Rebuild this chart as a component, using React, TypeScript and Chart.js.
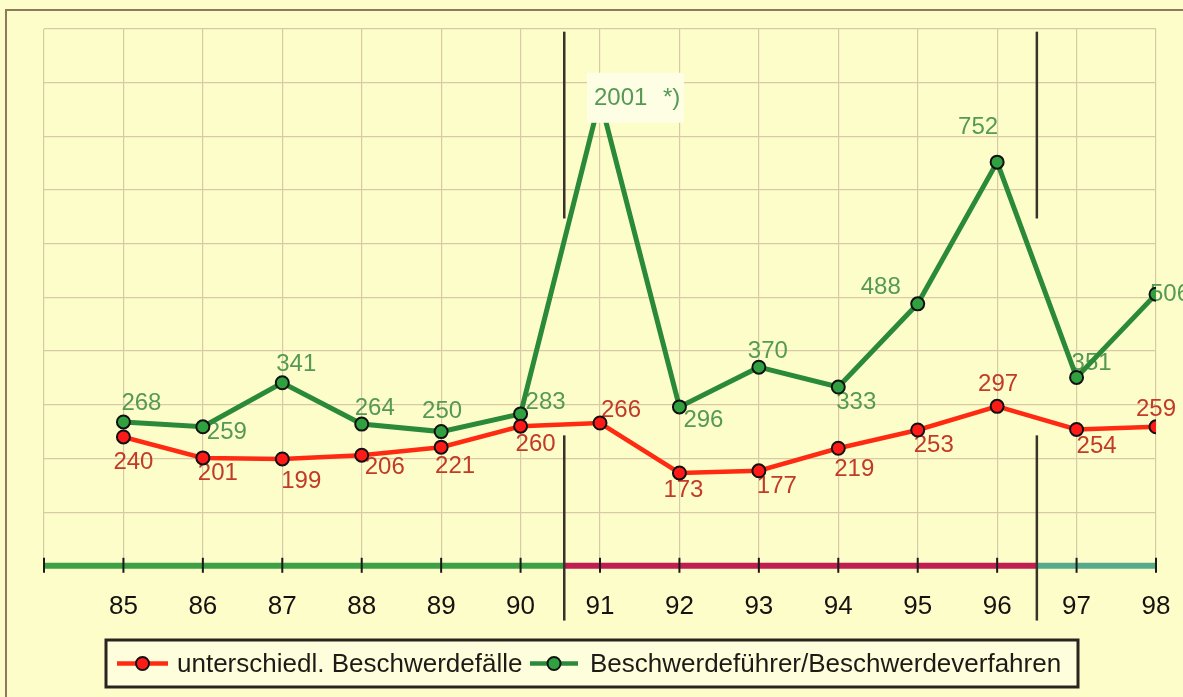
import { useEffect, useRef } from 'react';
import { Chart, registerables } from 'chart.js';

Chart.register(...registerables);

// ---------- data ----------
const years = [85, 86, 87, 88, 89, 90, 91, 92, 93, 94, 95, 96, 97, 98];
const redValues = [240, 201, 199, 206, 221, 260, 266, 173, 177, 219, 253, 297, 254, 259];
const greenValues = [268, 259, 341, 264, 250, 283, 2001, 296, 370, 333, 488, 752, 351, 506];
const greenFootnote = '*)';
// the 2001 value is off the scale; the original draws it at this (broken-axis) height
const OFF_SCALE_DRAWN = 870;
const redLabel = 'unterschiedl. Beschwerdefälle';
const greenLabel = 'Beschwerdeführer/Beschwerdeverfahren';
const periodBreaks = [90.55, 96.5];
const X_MIN = 84;
const X_MAX = 98;
const Y_MAX = 1000;

// ---------- layout / style ----------
const FONT = '"Liberation Sans", Arial, Helvetica, sans-serif';
const BG = '#fdfdca';
const GRID = '#d9caa6';
const RED_LINE = '#ff2a12';
const RED_POINT = '#ff1a1a';
const RED_TEXT = '#c23a28';
const GREEN_LINE = '#2a8a3a';
const GREEN_POINT = '#30a040';
const GREEN_TEXT = '#559955';

// label offsets (dx, dy) of each value label centre from its point
const redLabelOffsets = [
  [10, 25], [15, 15], [19, 22], [23, 12], [14, 19], [15, 18], [21, -13],
  [4, 17], [18, 16], [16, 21], [16, 15], [1, -22], [20, 17], [0, -17],
];
const greenLabelOffsets = [
  [18, -19], [24, 6], [14, -18], [13, -16], [1, -20], [25, -12], [0, 0],
  [24, 13], [9, -16], [18, 15], [-37, -16], [-19, -35], [15, -14], [14, 0],
];
const dividerRanges = [[995, 647], [243, -102]];

const decor = {
  id: 'decor',
  beforeDraw(chart: any) {
    const { ctx, width, height } = chart;
    ctx.save();
    ctx.fillStyle = BG;
    ctx.fillRect(0, 0, width, height);
    ctx.strokeStyle = '#8c7a5a';
    ctx.lineWidth = 2;
    ctx.beginPath();
    ctx.moveTo(6, height);
    ctx.lineTo(6, 10);
    ctx.lineTo(width, 10);
    ctx.stroke();
    ctx.restore();
  },
  beforeDatasetsDraw(chart: any) {
    const { ctx } = chart;
    const xs = chart.scales.x;
    const ys = chart.scales.y;
    const y0 = ys.getPixelForValue(0);
    ctx.save();
    const segs: [number, number, string][] = [
      [X_MIN, periodBreaks[0], '#3ea045'],
      [periodBreaks[0], periodBreaks[1], '#be1e50'],
      [periodBreaks[1], X_MAX, '#55aa8c'],
    ];
    ctx.lineWidth = 6;
    ctx.lineCap = 'butt';
    segs.forEach(([a, b, c]) => {
      ctx.strokeStyle = c;
      ctx.beginPath();
      ctx.moveTo(xs.getPixelForValue(a), y0);
      ctx.lineTo(xs.getPixelForValue(b), y0);
      ctx.stroke();
    });
    ctx.strokeStyle = '#1a1a1a';
    ctx.lineWidth = 2;
    for (let v = X_MIN; v <= X_MAX; v++) {
      const px = xs.getPixelForValue(v);
      ctx.beginPath();
      ctx.moveTo(px, y0 - 8);
      ctx.lineTo(px, y0 + 7);
      ctx.stroke();
    }
    ctx.strokeStyle = '#3a3129';
    ctx.lineWidth = 2.5;
    periodBreaks.forEach((b) => {
      const px = xs.getPixelForValue(b);
      dividerRanges.forEach(([a, c]) => {
        ctx.beginPath();
        ctx.moveTo(px, ys.getPixelForValue(a));
        ctx.lineTo(px, ys.getPixelForValue(c));
        ctx.stroke();
      });
    });

    // value labels (beneath the lines, as in the original)
    ctx.font = `24px ${FONT}`;
    ctx.textAlign = 'center';
    ctx.textBaseline = 'middle';
    const redMeta = chart.getDatasetMeta(0).data;
    const greenMeta = chart.getDatasetMeta(1).data;
    redValues.forEach((v, i) => {
      const el = redMeta[i];
      ctx.fillStyle = RED_TEXT;
      ctx.fillText(String(v), el.x + redLabelOffsets[i][0], el.y + redLabelOffsets[i][1]);
    });
    greenValues.forEach((v, i) => {
      if (v > Y_MAX) return;
      const el = greenMeta[i];
      ctx.fillStyle = GREEN_TEXT;
      ctx.fillText(String(v), el.x + greenLabelOffsets[i][0], el.y + greenLabelOffsets[i][1]);
    });
    ctx.restore();
  },
  afterDatasetsDraw(chart: any) {
    const { ctx } = chart;
    ctx.save();
    ctx.font = `24px ${FONT}`;
    ctx.textBaseline = 'middle';
    const greenMeta = chart.getDatasetMeta(1).data;
    greenValues.forEach((v, i) => {
      if (v <= Y_MAX) return;
      const el = greenMeta[i];
      ctx.fillStyle = '#fefee4';
      ctx.fillRect(el.x - 13, el.y - 26, 97, 50);
      ctx.fillStyle = GREEN_TEXT;
      ctx.textAlign = 'left';
      ctx.fillText(String(v), el.x - 6, el.y);
      ctx.fillText(greenFootnote, el.x + 63, el.y);
    });

    // legend
    const lx0 = 106, lx1 = 1078, ly0 = 640, ly1 = 687;
    const ly = (ly0 + ly1) / 2;
    ctx.fillStyle = '#fefedc';
    ctx.fillRect(lx0, ly0, lx1 - lx0, ly1 - ly0);
    ctx.strokeStyle = '#2a2420';
    ctx.lineWidth = 3;
    ctx.strokeRect(lx0, ly0, lx1 - lx0, ly1 - ly0);
    const item = (x0: number, x1: number, line: string, fill: string, text: string, tx: number) => {
      ctx.strokeStyle = line;
      ctx.lineWidth = 4.5;
      ctx.beginPath();
      ctx.moveTo(x0, ly);
      ctx.lineTo(x1, ly);
      ctx.stroke();
      ctx.beginPath();
      ctx.arc((x0 + x1) / 2, ly, 6.5, 0, Math.PI * 2);
      ctx.fillStyle = fill;
      ctx.fill();
      ctx.strokeStyle = '#111';
      ctx.lineWidth = 2;
      ctx.stroke();
      ctx.fillStyle = '#1e1a16';
      ctx.font = `26px ${FONT}`;
      ctx.textAlign = 'left';
      ctx.fillText(text, tx, ly + 1);
    };
    item(117, 168, RED_LINE, RED_POINT, redLabel, 177);
    item(530, 578, GREEN_LINE, GREEN_POINT, greenLabel, 590);
    ctx.restore();
  },
};

export default function App() {
  const ref = useRef<HTMLCanvasElement | null>(null);
  useEffect(() => {
    if (!ref.current) return;
    const greenDrawn = greenValues.map((v) => (v > Y_MAX ? OFF_SCALE_DRAWN : v));
    const chart = new Chart(ref.current, {
      type: 'line',
      data: {
        datasets: [
          {
            label: redLabel,
            data: years.map((x, i) => ({ x, y: redValues[i] })),
            borderColor: RED_LINE,
            borderWidth: 4.5,
            pointRadius: 6.5,
            pointBackgroundColor: RED_POINT,
            pointBorderColor: '#111',
            pointBorderWidth: 2,
            tension: 0,
          },
          {
            label: greenLabel,
            data: years.map((x, i) => ({ x, y: greenDrawn[i] })),
            borderColor: GREEN_LINE,
            borderWidth: 5,
            pointRadius: 6.5,
            pointBackgroundColor: GREEN_POINT,
            pointBorderColor: '#111',
            pointBorderWidth: 2,
            tension: 0,
          },
        ],
      },
      options: {
        responsive: false,
        animation: false,
        layout: { padding: { left: 44, right: 27, top: 29, bottom: 50 } },
        plugins: { legend: { display: false }, tooltip: { enabled: false } },
        scales: {
          x: {
            type: 'linear',
            min: X_MIN,
            max: X_MAX,
            border: { display: false },
            grid: { color: GRID, lineWidth: 1.2, drawTicks: false },
            afterFit: (scale: any) => {
              scale.paddingLeft = 0;
              scale.paddingRight = 0;
            },
            ticks: {
              stepSize: 1,
              autoSkip: false,
              maxRotation: 0,
              padding: 25,
              color: '#161210',
              font: { family: FONT, size: 26 },
              callback: (v: any) => (years.includes(v) ? String(v) : ''),
            },
          },
          y: {
            min: 0,
            max: Y_MAX,
            border: { display: false },
            grid: { color: GRID, lineWidth: 1.2, drawTicks: false },
            ticks: { display: false, stepSize: 100 },
          },
        },
      },
      plugins: [decor],
    });
    return () => chart.destroy();
  }, []);
  return (
    <div style={{ position: 'fixed', left: 0, top: 0, width: 1183, height: 697 }}>
      <canvas ref={ref} width={1183} height={697} style={{ display: 'block' }} />
    </div>
  );
}
